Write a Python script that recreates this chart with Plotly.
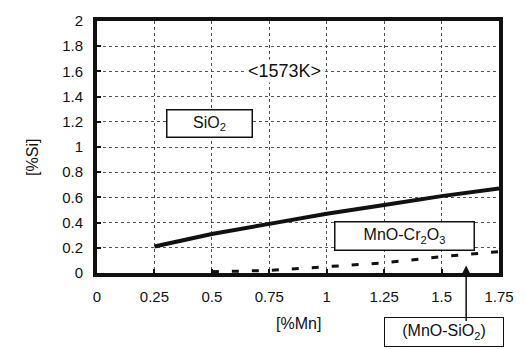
import plotly.graph_objects as go

# Data
sio2_x = [0.25, 0.5, 0.75, 1.0, 1.25, 1.5, 1.75]
sio2_y = [0.21, 0.31, 0.39, 0.47, 0.54, 0.61, 0.67]

mnosio2_x = [0.5, 0.75, 1.0, 1.25, 1.5, 1.75]
mnosio2_y = [0.01, 0.02, 0.05, 0.08, 0.13, 0.17]

x_ticks = [0, 0.25, 0.5, 0.75, 1.0, 1.25, 1.5, 1.75]
x_labels = ["0", "0.25", "0.5", "0.75", "1", "1.25", "1.5", "1.75"]
y_ticks = [0, 0.2, 0.4, 0.6, 0.8, 1.0, 1.2, 1.4, 1.6, 1.8, 2.0]
y_labels = ["0", "0.2", "0.4", "0.6", "0.8", "1", "1.2", "1.4", "1.6", "1.8", "2"]

FONT = "Liberation Sans, Arial, sans-serif"
INK = "#111111"

fig = go.Figure()
fig.add_trace(go.Scatter(x=sio2_x, y=sio2_y, mode="lines",
                         line=dict(color=INK, width=4), showlegend=False))
fig.add_trace(go.Scatter(x=mnosio2_x, y=mnosio2_y, mode="lines",
                         line=dict(color=INK, width=3, dash="7px,13px"), showlegend=False))

fig.update_layout(
    width=526, height=349,
    margin=dict(l=97, r=26, t=15, b=76),
    paper_bgcolor="white", plot_bgcolor="white",
    font=dict(family=FONT, size=15, color=INK),
    xaxis=dict(range=[0, 1.75], tickvals=x_ticks, ticktext=x_labels,
               showgrid=True, gridcolor="#555", griddash="dot", gridwidth=1,
               showline=True, linecolor=INK, linewidth=4, mirror=True,
               ticks="inside", ticklen=4, tickwidth=2, tickcolor=INK,
               ticklabelstandoff=7,
               zeroline=False, tickfont=dict(size=15, color=INK)),
    yaxis=dict(range=[0, 2], tickvals=y_ticks, ticktext=y_labels,
               showgrid=True, gridcolor="#555", griddash="dot", gridwidth=1,
               showline=True, linecolor=INK, linewidth=4, mirror=True,
               ticks="inside", ticklen=4, tickwidth=2, tickcolor=INK,
               ticklabelstandoff=7,
               zeroline=False, tickfont=dict(size=15, color=INK)),
)

# Axis titles
fig.add_annotation(text="[%Mn]", xref="paper", yref="paper", x=0.5, y=-0.2,
                   showarrow=False, font=dict(size=16, color=INK), yanchor="middle")
fig.add_annotation(text="[%Si]", xref="paper", yref="paper", x=-0.159, y=0.457,
                   showarrow=False, textangle=-90, font=dict(size=16, color=INK),
                   xanchor="center", yanchor="middle")

# Labels in plot
fig.add_annotation(text="&lt;1573K&gt;", x=0.815, y=1.6, showarrow=False,
                   font=dict(size=18, color=INK), bgcolor="white")
fig.add_annotation(text="SiO<sub>2</sub>", x=0.49, y=1.19, showarrow=False,
                   font=dict(size=16, color=INK), bgcolor="white",
                   bordercolor=INK, borderwidth=1.5, borderpad=3, width=78, height=20)
fig.add_annotation(text="MnO-Cr<sub>2</sub>O<sub>3</sub>", x=1.337, y=0.29, showarrow=False,
                   font=dict(size=16, color=INK), bgcolor="white",
                   bordercolor=INK, borderwidth=1.5, borderpad=3, width=132, height=21)

# (MnO-SiO2) label below the axis with an arrow
fig.add_annotation(text="(MnO-SiO<sub>2</sub>)", x=1.51, y=-0.235, xref="x", yref="paper",
                   showarrow=False, font=dict(size=16, color=INK), bgcolor="white",
                   bordercolor=INK, borderwidth=1, borderpad=3, width=112, height=22,
                   yanchor="middle")
fig.add_annotation(text="", x=1.607, y=0.06, xref="x", yref="y",
                   showarrow=True, arrowhead=2, arrowsize=1, arrowwidth=1.5,
                   arrowcolor=INK, ax=0, ay=57)

fig.write_html("out.html")
